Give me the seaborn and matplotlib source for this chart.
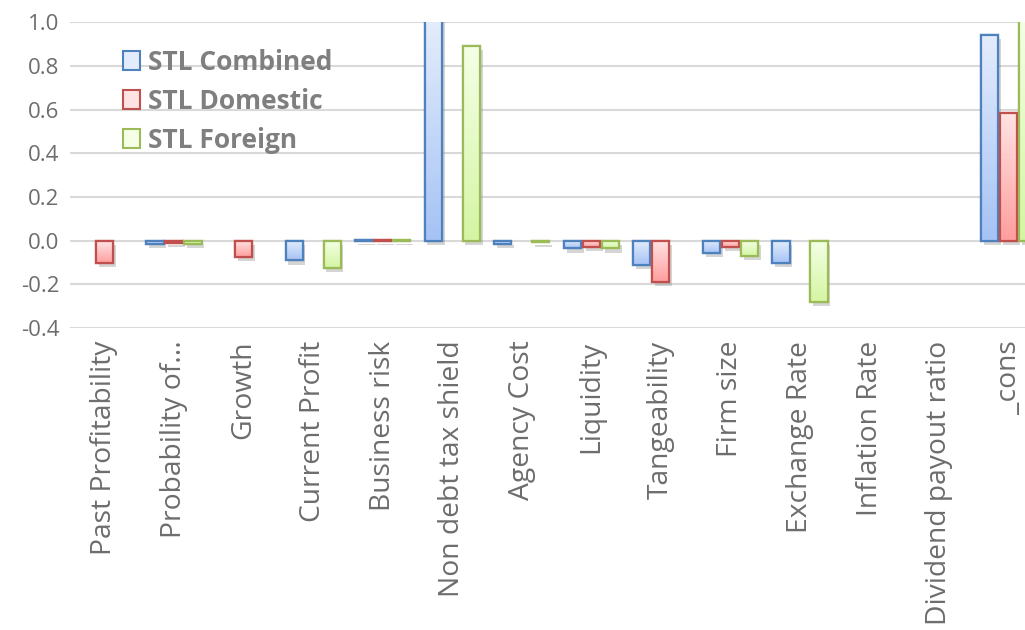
import seaborn as sns
import matplotlib.pyplot as plt
import matplotlib.patheffects as pe
import matplotlib.colors as mcolors
import pandas as pd
import numpy as np

# Данные
factors = ['Past Profitability', 'Probability of...', 'Growth', 'Current Profit',
           'Business risk', 'Non debt tax shield', 'Agency Cost', 'Liquidity',
           'Tangeability', 'Firm size', 'Exchange Rate', 'Inflation Rate',
           'Dividend payout ratio', '_cons']
combined = [0.0, -0.015, 0.0, -0.09, 0.005, 1.20, -0.015, -0.035,
            -0.11, -0.055, -0.10, 0.0, 0.0, 0.94]
domestic = [-0.10, -0.01, -0.075, 0.0, 0.005, 0.0, 0.0, -0.03,
            -0.19, -0.03, 0.0, 0.0, 0.0, 0.585]
foreign = [0.0, -0.015, 0.0, -0.125, 0.005, 0.89, -0.008, -0.035,
           0.0, -0.07, -0.28, 0.0, 0.0, 1.10]
series = ['STL Combined', 'STL Domestic', 'STL Foreign']

df = pd.DataFrame({'factor': factors * 3,
                   'value': combined + domestic + foreign,
                   'series': np.repeat(series, len(factors))})

edges = ['#4f81bd', '#c0504d', '#9bbb59']
tops = ['#e3ecfc', '#ffe3e3', '#f4ffe6']
bottoms = ['#a6c3f5', '#ff9e9e', '#d5f5a3']

sns.set_theme(style='white')
plt.rcParams['font.family'] = ['Open Sans', 'DejaVu Sans']

fig = plt.figure(figsize=(10.25, 6.3), dpi=100)
ax = fig.add_axes([0.068, 0.479, 0.950, 0.486])

YMIN, YMAX = -0.4, 1.0

sns.barplot(data=df, x='factor', y='value', hue='series', order=factors,
            hue_order=series, palette=tops, width=0.82, gap=0.1,
            ax=ax, legend=False, zorder=3)

# Градиентная заливка + контур + тень
n = len(factors)
for i, patch in enumerate(list(ax.patches)):
    k = i // n
    h = patch.get_height()
    if abs(h) < 1e-9:
        patch.set_visible(False)
        continue
    patch.set_edgecolor(edges[k])
    patch.set_linewidth(1.6)
    patch.set_path_effects([pe.SimplePatchShadow(offset=(2, -3), shadow_rgbFace='#888888', alpha=0.35),
                            pe.Normal()])
    x0, y0, w = patch.get_x(), patch.get_y(), patch.get_width()
    ylo = max(min(y0, y0 + h), YMIN)
    yhi = min(max(y0, y0 + h), YMAX)
    cmap = mcolors.LinearSegmentedColormap.from_list('g', [bottoms[k], tops[k]])
    grad = np.linspace(0, 1, 64).reshape(-1, 1)
    ax.imshow(grad, cmap=cmap, aspect='auto', origin='lower',
              extent=[x0, x0 + w, ylo, yhi], zorder=3.5)
    ax.add_patch(plt.Rectangle((x0, y0), w, h, fill=False, edgecolor=edges[k],
                               linewidth=1.6, zorder=4))

ax.set_xlim(-0.5, n - 0.5)
ax.set_ylim(YMIN, YMAX)
ticks = np.arange(-0.4, 1.01, 0.2)
ax.set_yticks(ticks)
ax.set_yticklabels([f'{v:.1f}' for v in ticks])
ax.yaxis.grid(True, color='#d9d9d9', linewidth=1.5, zorder=0)
ax.set_axisbelow(True)
for s in ax.spines.values():
    s.set_visible(False)
ax.tick_params(axis='y', labelsize=16, labelcolor='#6d6d6d', length=0, pad=7.5)
ax.tick_params(axis='x', labelsize=20.3, labelcolor='#6d6d6d', length=0, pad=9)
plt.setp(ax.get_xticklabels(), rotation=90, ha='center', va='top')
ax.set_xlabel('')
ax.set_ylabel('')

# Легенда
handles = [plt.Rectangle((0, 0), 1, 1, facecolor=tops[k], edgecolor=edges[k], linewidth=1.5)
           for k in range(3)]
leg = ax.legend(handles, series, loc='upper left', bbox_to_anchor=(0.03, 0.99),
                frameon=False, handlelength=0.65, handleheight=0.7, handletextpad=0.3,
                labelspacing=0.45, prop={'size': 19, 'weight': 'bold'})
for t in leg.get_texts():
    t.set_color('#7f7f7f')

fig.savefig('out.png', dpi=100)
